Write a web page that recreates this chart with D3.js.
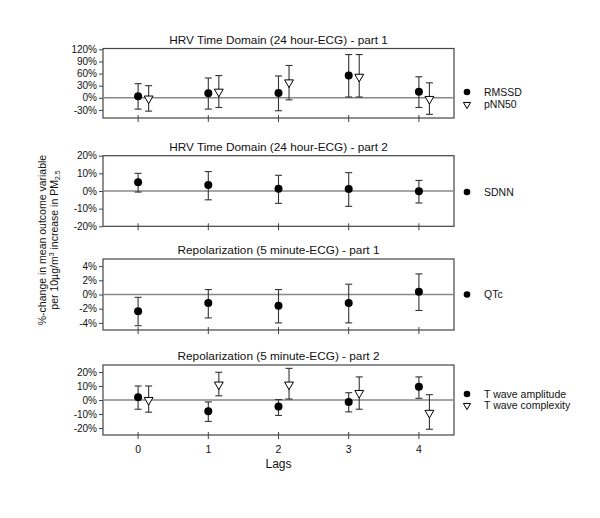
<!DOCTYPE html>
<html>
<head>
<meta charset="utf-8">
<script src="https://cdn.jsdelivr.net/npm/d3@7"></script>
<style>
  body { margin: 0; background: #fff; }
  text { font-family: "Liberation Sans", Arial, sans-serif; fill: #111; }
  .tick text { font-size: 10px; }
  .title { font-size: 11.8px; }
  .legend text { font-size: 10.5px; }
  .axis path, .axis line { stroke: #444; }
</style>
</head>
<body>
<svg width="600" height="518"></svg>
<script>
var lags = [0, 1, 2, 3, 4];

var rmssd = [4, 11, 12, 55, 15];
var rmssdLo = [-28, -28, -32, 2, -24];
var rmssdHi = [35, 49, 54, 107, 52];
var pnn50 = [-2, 15, 38, 52, -3];
var pnn50Lo = [-33, -24, -5, 2, -41];
var pnn50Hi = [30, 55, 80, 107, 37];

var sdnn = [4.9, 3.4, 1.3, 1.2, -0.2];
var sdnnLo = [-0.6, -5, -7, -8.7, -6.8];
var sdnnHi = [10, 11, 8.9, 10.4, 6];

var qtc = [-2.35, -1.2, -1.6, -1.2, 0.4];
var qtcLo = [-4.4, -3.3, -4.0, -4.0, -2.25];
var qtcHi = [-0.4, 0.7, 0.7, 1.45, 2.9];

var tAmp = [1.9, -8, -4.7, -1.4, 9.4];
var tAmpLo = [-6.6, -15.3, -11, -8.5, 1.2];
var tAmpHi = [10, -1.4, 0.3, 5.2, 16.5];
var tCx = [0, 11, 11, 5, -9.2];
var tCxLo = [-8.7, 3, 0.7, -6.6, -20.9];
var tCxHi = [10, 19.8, 22.6, 16.5, 3.8];

var titles = [
  "HRV Time Domain (24 hour-ECG) - part 1",
  "HRV Time Domain (24 hour-ECG) - part 2",
  "Repolarization (5 minute-ECG) - part 1",
  "Repolarization (5 minute-ECG) - part 2"
];
var yTicks = [
  [-30, 0, 30, 60, 90, 120],
  [-20, -10, 0, 10, 20],
  [-4, -2, 0, 2, 4],
  [-20, -10, 0, 10, 20]
];
var yDomains = [[-50, 122], [-20, 20], [-5, 5], [-25, 25]];

var svg = d3.select("svg");
var left = 103, right = 454;

var x = d3.scaleLinear().domain([-0.5, 4.5]).range([left, right]);

// each panel: vertical extent and its series (filled circle or open triangle)
var panels = [
  { top: 48.5, bottom: 118, legendY: [92, 104.5], series: [
    { name: "RMSSD", v: rmssd, lo: rmssdLo, hi: rmssdHi, shape: "circle", dx: 0 },
    { name: "pNN50", v: pnn50, lo: pnn50Lo, hi: pnn50Hi, shape: "tri", dx: 0.15 }
  ] },
  { top: 155.7, bottom: 226.3, legendY: [192], series: [
    { name: "SDNN", v: sdnn, lo: sdnnLo, hi: sdnnHi, shape: "circle", dx: 0 }
  ] },
  { top: 259, bottom: 330, legendY: [294.5], series: [
    { name: "QTc", v: qtc, lo: qtcLo, hi: qtcHi, shape: "circle", dx: 0 }
  ] },
  { top: 365, bottom: 435, legendY: [394, 405.5], series: [
    { name: "T wave amplitude", v: tAmp, lo: tAmpLo, hi: tAmpHi, shape: "circle", dx: 0 },
    { name: "T wave complexity", v: tCx, lo: tCxLo, hi: tCxHi, shape: "tri", dx: 0.15 }
  ] }
];

var tri = d3.symbol().type(d3.symbolTriangle).size(34);

panels.forEach(function(p, i) {
  var y = d3.scaleLinear().domain(yDomains[i]).range([p.bottom, p.top]);
  var g = svg.append("g");

  // frame
  g.append("rect")
    .attr("x", left)
    .attr("y", p.top)
    .attr("width", right - left)
    .attr("height", p.bottom - p.top)
    .attr("fill", "none")
    .attr("stroke", "#444")
    .attr("stroke-width", 1.2);

  // zero line
  g.append("line")
    .attr("x1", left)
    .attr("x2", right)
    .attr("y1", y(0))
    .attr("y2", y(0))
    .attr("stroke", "#888")
    .attr("stroke-width", 1.5);

  g.append("g")
    .attr("class", "axis")
    .attr("transform", "translate(" + left + ",0)")
    .call(d3.axisLeft(y).tickValues(yTicks[i]).tickSize(4).tickPadding(2)
      .tickFormat(function(d) { return d + "%"; }))
    .call(function(a) { a.select(".domain").remove(); });

  // x ticks crossing the bottom edge
  g.selectAll("line.xt")
    .data(lags)
    .enter()
    .append("line")
    .attr("class", "xt")
    .attr("x1", function(d) { return x(d); })
    .attr("x2", function(d) { return x(d); })
    .attr("y1", p.bottom - 3)
    .attr("y2", p.bottom + 4)
    .attr("stroke", "#444");

  if (i === 3) {
    g.selectAll("text.xl")
      .data(lags)
      .enter()
      .append("text")
      .attr("class", "xl")
      .attr("x", function(d) { return x(d); })
      .attr("y", p.bottom + 18)
      .attr("text-anchor", "middle")
      .style("font-size", "10.5px")
      .text(function(d) { return d; });
  }

  g.append("text")
    .attr("class", "title")
    .attr("x", (left + right) / 2)
    .attr("y", p.top - 5)
    .attr("text-anchor", "middle")
    .text(titles[i]);

  p.series.forEach(function(s, k) {
    var sg = g.append("g");
    var px = function(j) { return x(lags[j] + s.dx); };
    var idx = d3.range(s.v.length);

    sg.selectAll("line.bar")
      .data(idx)
      .enter()
      .append("line")
      .attr("x1", px)
      .attr("x2", px)
      .attr("y1", function(j) { return y(s.lo[j]); })
      .attr("y2", function(j) { return y(s.hi[j]); })
      .attr("stroke", "#333")
      .attr("stroke-width", 1.1);

    ["lo", "hi"].forEach(function(key) {
      sg.selectAll("line.cap" + key)
        .data(idx)
        .enter()
        .append("line")
        .attr("x1", function(j) { return px(j) - 3.5; })
        .attr("x2", function(j) { return px(j) + 3.5; })
        .attr("y1", function(j) { return y(s[key][j]); })
        .attr("y2", function(j) { return y(s[key][j]); })
        .attr("stroke", "#333")
        .attr("stroke-width", 1.1);
    });

    if (s.shape === "circle") {
      sg.selectAll("circle")
        .data(idx)
        .enter()
        .append("circle")
        .attr("cx", px)
        .attr("cy", function(j) { return y(s.v[j]); })
        .attr("r", 4)
        .attr("fill", "#000");
    } else {
      sg.selectAll("path.pt")
        .data(idx)
        .enter()
        .append("path")
        .attr("d", tri)
        .attr("transform", function(j) {
          return "translate(" + px(j) + "," + y(s.v[j]) + ")rotate(180)";
        })
        .attr("fill", "#fff")
        .attr("stroke", "#000")
        .attr("stroke-width", 1);
    }

    // legend
    var ly = p.legendY[k];
    var lg = svg.append("g").attr("class", "legend");
    if (s.shape === "circle") {
      lg.append("circle").attr("cx", 467).attr("cy", ly).attr("r", 3.3).attr("fill", "#000");
    } else {
      lg.append("path").attr("d", d3.symbol().type(d3.symbolTriangle).size(22))
        .attr("transform", "translate(467," + ly + ")rotate(180)")
        .attr("fill", "#fff").attr("stroke", "#000");
    }
    lg.append("text")
      .attr("x", 484)
      .attr("y", ly)
      .attr("dy", "0.35em")
      .text(s.name);
  });
});

svg.append("text")
  .attr("x", x(2))
  .attr("y", 468)
  .attr("text-anchor", "middle")
  .style("font-size", "12px")
  .text("Lags");

var yl = svg.append("text")
  .attr("transform", "translate(46,240)rotate(-90)")
  .attr("text-anchor", "middle")
  .style("font-size", "10.5px");
yl.append("tspan").attr("x", 0).attr("dy", 0).text("%-change in mean outcome variable");
var l2 = yl.append("tspan").attr("x", 0).attr("dy", "11.5");
l2.append("tspan").text("per 10µg/m");
l2.append("tspan").attr("dy", "-3.5").style("font-size", "7px").text("3");
l2.append("tspan").attr("dy", "3.5").text(" increase in PM");
l2.append("tspan").attr("dy", "2.5").style("font-size", "7px").text("2.5");
</script>
</body>
</html>
